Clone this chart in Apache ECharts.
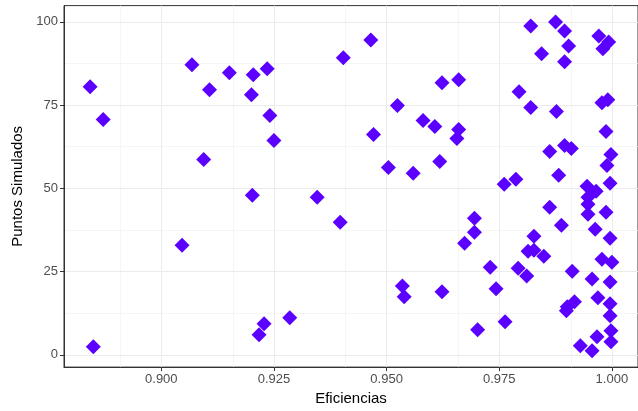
<!DOCTYPE html>
<html>
<head>
<meta charset="utf-8">
<script src="https://cdn.jsdelivr.net/npm/echarts@6/dist/echarts.min.js"></script>
<style>
  html, body { margin: 0; padding: 0; background: #fff; }
  #chart { width: 638px; height: 411px; }
</style>
</head>
<body>
<div id="chart"></div>
<script>
// Eficiencias (x) y Puntos Simulados (y)
var eficiencias = [
    0.8842, 0.8871, 0.8849, 0.9068, 0.9107, 0.9094, 0.9046, 0.9151, 0.9204, 0.9235,
    0.9200, 0.9241, 0.9250, 0.9202, 0.9346, 0.9397, 0.9404, 0.9465, 0.9471, 0.9285,
    0.9228, 0.9217, 0.9623, 0.9524, 0.9581, 0.9607, 0.9618, 0.9504, 0.9559, 0.9535,
    0.9539, 0.9623, 0.9660, 0.9660, 0.9656, 0.9695, 0.9695, 0.9673, 0.9730, 0.9743,
    0.9702, 0.9763, 0.9761, 0.9787, 0.9794, 0.9820, 0.9875, 0.9895, 0.9904, 0.9844,
    0.9895, 0.9971, 0.9993, 0.9980, 0.9820, 0.9877, 0.9978, 0.9991, 0.9987, 0.9862,
    0.9895, 0.9910, 0.9998, 0.9989, 0.9882, 0.9945, 0.9965, 0.9996, 0.9862, 0.9947,
    0.9947, 0.9947, 0.9987, 0.9888, 0.9963, 0.9996, 0.9827, 0.9814, 0.9827, 0.9849,
    0.9978, 1.0000, 0.9792, 0.9811, 0.9912, 0.9956, 0.9996, 0.9969, 0.9917, 0.9899,
    0.9901, 0.9996, 0.9996, 0.9930, 0.9956, 0.9967, 0.9998, 0.9998
];
var puntos = [
    80.5, 70.7, 2.4, 87.1, 79.6, 58.7, 32.9, 84.7, 84.1, 85.9,
    78.1, 71.9, 64.4, 47.9, 47.3, 39.8, 89.2, 94.6, 66.2, 11.1,
    9.3, 6.0, 81.7, 74.9, 70.4, 68.6, 58.1, 56.3, 54.5, 20.7,
    17.4, 18.9, 82.6, 67.7, 65.0, 41.0, 36.8, 33.5, 26.3, 19.8,
    7.5, 9.9, 51.2, 52.7, 79.0, 98.8, 100.0, 97.3, 92.8, 90.4,
    88.0, 95.8, 94.0, 91.9, 74.3, 73.1, 75.7, 76.6, 67.1, 61.1,
    62.9, 62.0, 60.2, 56.9, 53.9, 50.6, 49.1, 51.5, 44.3, 47.3,
    45.2, 42.2, 42.8, 38.9, 37.7, 35.0, 35.6, 31.1, 31.4, 29.6,
    28.7, 27.8, 26.0, 23.7, 25.1, 22.8, 21.9, 17.1, 15.9, 13.2,
    14.4, 15.3, 11.7, 2.7, 1.2, 5.4, 7.2, 3.9
];
var xTicks = [0.900, 0.925, 0.950, 0.975, 1.000];
var yTicks = [0, 25, 50, 75, 100];

var puntosData = [];
for (var i = 0; i < eficiencias.length; i++) {
    puntosData.push([eficiencias[i], puntos[i]]);
}

// rejilla horizontal (mayor y menor) sobre los valores de y
var yGrid = [];
for (var g = 0; g < yTicks.length; g++) {
    yGrid.push({yAxis: yTicks[g], lineStyle: {color: '#ebebeb', width: 1, type: 'solid'}});
    if (g < yTicks.length - 1) {
        yGrid.push({yAxis: (yTicks[g] + yTicks[g + 1]) / 2,
            lineStyle: {color: '#f2f2f2', width: 0.8, type: 'solid'}});
    }
}

var chart = echarts.init(document.getElementById('chart'));
var option = {
    animation: false,
    backgroundColor: '#ffffff',
    textStyle: {fontFamily: 'Liberation Sans, Arial, sans-serif'},
    grid: {
        left: 64,
        right: -6,
        top: 5.6,
        bottom: 42.6,
        show: true,
        borderColor: '#333333',
        borderWidth: 1,
        backgroundColor: 'transparent'
    },
    xAxis: {
        type: 'value',
        min: 0.8784,
        max: 1.0058,
        interval: 0.025,
        name: 'Eficiencias',
        nameLocation: 'middle',
        nameGap: 21,
        nameTextStyle: {color: '#000000', fontSize: 15},
        axisLine: {show: true, onZero: false, lineStyle: {color: '#333333', width: 1}},
        axisTick: {show: true, length: 4, lineStyle: {color: '#333333'},
            customValues: xTicks},
        axisLabel: {
            color: '#4d4d4d', fontSize: 13, margin: 6,
            customValues: xTicks,
            formatter: function (v) { return v.toFixed(3); }
        },
        splitLine: {show: true, lineStyle: {color: '#ebebeb', width: 1}},
        minorTick: {show: false, splitNumber: 2},
        minorSplitLine: {show: true, lineStyle: {color: '#f2f2f2', width: 0.8}}
    },
    yAxis: {
        type: 'value',
        min: -3.7,
        max: 104.9,
        name: 'Puntos Simulados',
        nameLocation: 'middle',
        nameGap: 34,
        nameRotate: 90,
        nameTextStyle: {color: '#000000', fontSize: 15},
        axisLine: {show: true, onZero: false, lineStyle: {color: '#333333', width: 1}},
        axisTick: {show: true, length: 4, lineStyle: {color: '#333333'},
            customValues: yTicks},
        axisLabel: {color: '#4d4d4d', fontSize: 13, margin: 6, customValues: yTicks},
        splitLine: {show: false},
        minorSplitLine: {show: false}
    },
    series: [
        {
            name: 'Puntos Simulados',
            type: 'scatter',
            symbol: 'diamond',
            symbolSize: 15,
            itemStyle: {color: '#5b00ff', opacity: 1},
            data: puntosData,
            markLine: {
                silent: true,
                symbol: 'none',
                label: {show: false},
                z: 0,
                data: yGrid
            }
        }
    ]
};
chart.setOption(option);
</script>
</body>
</html>
